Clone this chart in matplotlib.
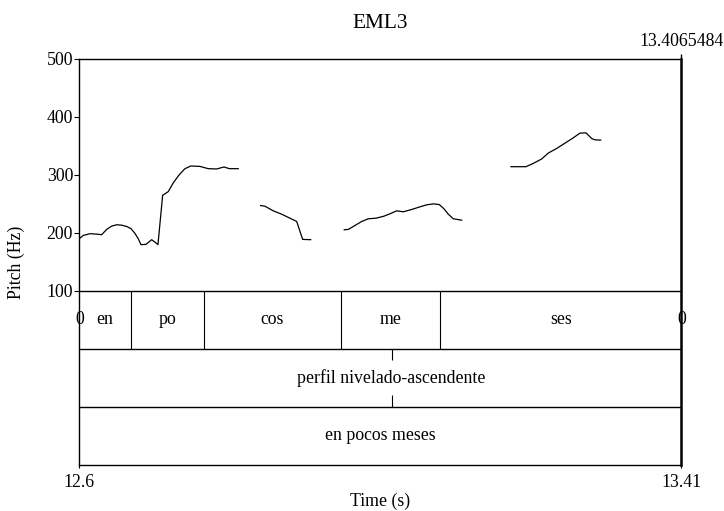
import matplotlib.pyplot as plt

plt.rcParams['font.family'] = ['Liberation Serif', 'DejaVu Serif']
plt.rcParams['font.size'] = 12.8

# time range of the selection (s)
t_start = 12.6
t_end = 13.4065484

# pitch contour, one list per voiced stretch
seg1_t = [12.6000, 12.6054, 12.6143, 12.6233, 12.6300, 12.6367, 12.6434, 12.6501,
          12.6568, 12.6635, 12.6693, 12.6746, 12.6790, 12.6827, 12.6894, 12.6970,
          12.7024, 12.7054, 12.7117, 12.7192, 12.7259, 12.7340, 12.7416, 12.7493,
          12.7617, 12.7728, 12.7841, 12.7939, 12.8010, 12.8130]
seg1_hz = [189.7, 195.4, 198.3, 197.6, 196.6, 205.7, 211.4, 213.7,
           213.0, 210.8, 206.9, 198.8, 189.7, 179.4, 180.0, 188.0,
           182.8, 179.4, 264.5, 270.8, 285.8, 300.0, 310.3, 314.9,
           314.2, 310.3, 309.8, 313.2, 310.3, 310.3]

seg2_t = [12.8430, 12.8488, 12.8599, 12.8712, 12.8823, 12.8913, 12.8948, 12.8993, 12.9100]
seg2_hz = [246.8, 245.6, 237.7, 231.9, 225.0, 219.4, 205.7, 188.5, 188.0]

seg3_t = [12.9550, 12.9604, 12.9694, 12.9784, 12.9872, 12.9975, 13.0082, 13.0172,
          13.0252, 13.0341, 13.0453, 13.0565, 13.0654, 13.0743, 13.0823, 13.0886,
          13.0944, 13.1011, 13.1123]
seg3_hz = [205.1, 205.7, 212.5, 219.4, 224.0, 225.0, 228.5, 233.1,
           237.7, 236.0, 240.0, 244.6, 248.0, 249.7, 248.5, 241.2,
           231.9, 224.0, 221.6]

seg4_t = [13.1784, 13.1882, 13.1985, 13.2083, 13.2195, 13.2284, 13.2396,
          13.2508, 13.2619, 13.2708, 13.2789, 13.2865, 13.2910, 13.2986]
seg4_hz = [313.7, 313.7, 313.7, 319.4, 327.0, 337.2, 345.1,
           354.3, 363.5, 371.5, 372.0, 362.2, 359.9, 359.5]

# textgrid tiers
syll_bounds = [12.6690, 12.7675, 12.9502, 13.0835]
syll_labels = ['en', 'po', 'cos', 'me', 'ses']
point_time = 13.0184
point_label = 'perfil nivelado-ascendente'
phrase_label = 'en pocos meses'

fig = plt.figure(figsize=(7.24, 5.11), dpi=100)
ax = fig.add_axes([0.1095, 0.0900, 0.8315, 0.7955])

for t, hz in [(seg1_t, seg1_hz), (seg2_t, seg2_hz), (seg3_t, seg3_hz), (seg4_t, seg4_hz)]:
    ax.plot(t, hz, color='black', lw=0.9)

ax.set_xlim(t_start, t_end)
ax.set_ylim(-200, 500)

# tier separators (pitch area 100-500, each tier = 100 units)
for y in [100, 0, -100]:
    ax.axhline(y, color='black', lw=1.0)

# tier 1: syllables
ax.vlines(syll_bounds, 0, 100, color='black', lw=0.8)
edges = [t_start] + syll_bounds + [t_end]
for i, lab in enumerate(syll_labels):
    ax.text((edges[i] + edges[i + 1]) / 2, 50, lab, ha='center', va='center')
ax.text(t_start, 50, '0', ha='center', va='center')
ax.text(t_end, 50, '0', ha='center', va='center')

# tier 2: point tier
ax.vlines(point_time, -20, 0, color='black', lw=0.8)
ax.vlines(point_time, -100, -80, color='black', lw=0.8)
ax.text(point_time, -50, point_label, ha='center', va='center')

# tier 3: phrase
ax.text((t_start + t_end) / 2, -150, phrase_label, ha='center', va='center')

for s in ax.spines.values():
    s.set_linewidth(1.0)
ax.spines['right'].set_linewidth(1.8)

ax.set_yticks([100, 200, 300, 400, 500])
ax.set_xticks([t_start, t_end])
ax.set_xticklabels(['12.6', '13.41'])
ax.tick_params(axis='y', direction='out', length=3.5, width=0.8, pad=1)
ax.tick_params(axis='x', direction='out', length=2.5, width=0.8, pad=4)

ax.set_xlabel('Time (s)', labelpad=1.5)
fig.text(16 / 724, 1 - 262 / 511, 'Pitch (Hz)', rotation=90, ha='center', va='center')
ax.set_title('EML3', pad=22)

# end time marker at top right
ax.vlines(t_end, 500, 508, color='black', lw=1.0, clip_on=False)
ax.annotate('13.4065484', xy=(t_end, 500), xytext=(0, 6), textcoords='offset points',
            ha='center', va='bottom', annotation_clip=False)

fig.savefig('out.png', dpi=100)
